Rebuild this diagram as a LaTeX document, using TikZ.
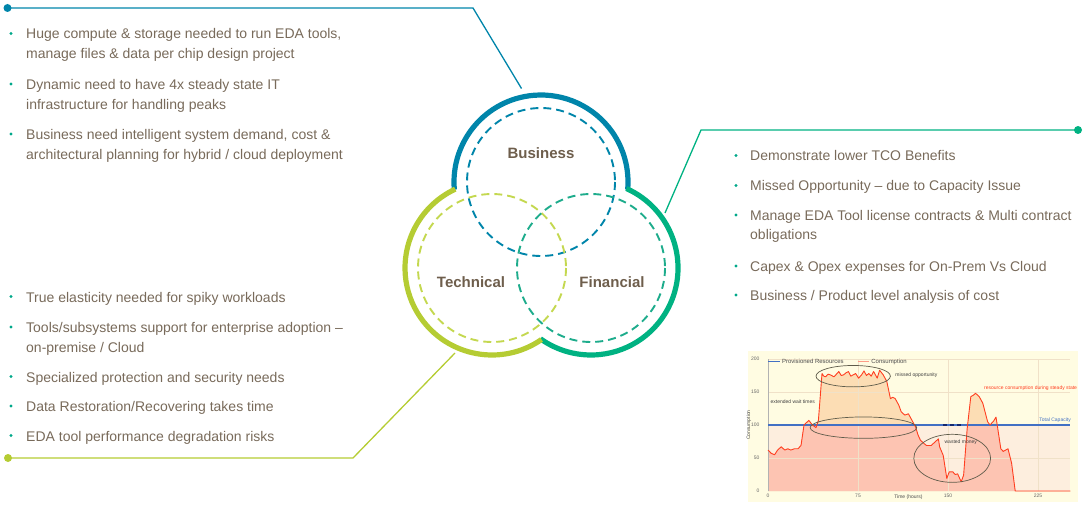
\documentclass[tikz,border=0pt]{standalone}
\usepackage{fontspec}
\setmainfont{Liberation Sans}
\usetikzlibrary{calc}
\definecolor{bizblue}{RGB}{0,133,170}
\definecolor{fingreen}{RGB}{0,178,130}
\definecolor{finDash}{RGB}{30,172,140}
\definecolor{techlime}{RGB}{181,204,51}
\definecolor{techDash}{RGB}{196,216,80}
\definecolor{txtc}{RGB}{120,106,90}
\definecolor{lblc}{RGB}{110,94,76}
\definecolor{bulc}{RGB}{0,168,138}
\definecolor{chartbg}{RGB}{255,252,226}
\definecolor{creamc}{RGB}{253,238,222}
\definecolor{peachc}{RGB}{252,221,180}
\definecolor{salmonc}{RGB}{253,196,178}
\definecolor{redc}{RGB}{255,62,32}
\definecolor{capblue}{RGB}{66,112,196}
\definecolor{navyc}{RGB}{20,40,110}
\definecolor{ellc}{RGB}{95,92,75}
\definecolor{gridc}{RGB}{240,225,200}
\tikzset{
  txt/.style={font=\fontsize{14}{17}\selectfont, text=txtc, inner sep=0, anchor=base west},
  bul/.style={circle, fill=bulc, inner sep=0, minimum size=3.2},
  lbl/.style={font=\fontsize{15}{18}\selectfont\bfseries, text=lblc, inner sep=0, anchor=base},
  ring/.style={line width=5.2, line cap=butt},
  dashring/.style={line width=1.9, dash pattern=on 8 off 5},
  conn/.style={line width=1.3},
  enddot/.style={circle, inner sep=0, minimum size=8},
  tiny/.style={font=\fontsize{5}{6}\selectfont, inner sep=0},
}
\begin{document}
\begin{tikzpicture}[x=1pt, y=-1pt]
\useasboundingbox (0,0) rectangle (1089,505);
% ---------------- Venn ----------------
\coordinate (B) at (541,182);
\coordinate (T) at (492,268);
\coordinate (F) at (591,268);
\draw[dashring, bizblue] (B) circle[radius=74];
\draw[dashring, techDash] (T) circle[radius=74];
\draw[dashring, finDash] (F) circle[radius=74];
\draw[ring, bizblue] (B) ++(175:87) arc[start angle=175, end angle=365, radius=87];
\draw[ring, fingreen] (F) ++(-66:87) arc[start angle=-66, end angle=125.5, radius=87];
\draw[ring, techlime] (T) ++(55.3:87) arc[start angle=55.3, end angle=245, radius=87];
\node[lbl] (biz) at (541,159) {Business};
\node[lbl] (tech) at (471,287.5) {Technical};
\node[lbl] (fin) at (612,287.5) {Financial};
% ---------------- connectors ----------------
\node[enddot, fill=bizblue] (dotB) at (7.5,8) {};
\coordinate (bendB) at (473,8);
\coordinate (endB) at (521.5,88.5);
\draw[conn, bizblue] (dotB.center) -- (bendB) -- (endB);
\node[enddot, fill=fingreen] (dotF) at (1078,130) {};
\coordinate (bendF) at (701,130);
\coordinate (endF) at (665,213);
\draw[conn, fingreen] (dotF.center) -- (bendF) -- (endF);
\node[enddot, fill=techlime] (dotT) at (8,458) {};
\coordinate (bendT) at (353,458);
\coordinate (endT) at (455,353);
\draw[conn, techlime] (dotT.center) -- (bendT) -- (endT);
% ---------------- business text ----------------
\node[bul] (bb1) at (11,33.5) {};
\node[txt] (tb1a) at (26,39) {Huge compute \& storage needed to run EDA tools,};
\node[txt] (tb1b) at (26,59) {manage files \& data per chip design project};
\node[bul] (bb2) at (11,84) {};
\node[txt] (tb2a) at (26,89.5) {Dynamic need to have 4x steady state IT};
\node[txt] (tb2b) at (26,109.5) {infrastructure for handling peaks};
\node[bul] (bb3) at (11,134) {};
\node[txt] (tb3a) at (26,139.5) {Business need intelligent system demand, cost \&};
\node[txt] (tb3b) at (26,159.5) {architectural planning for hybrid / cloud deployment};
% ---------------- technical text ----------------
\node[bul] (bt1) at (11,296.5) {};
\node[txt] (tt1) at (26,302) {True elasticity needed for spiky workloads};
\node[bul] (bt2) at (11,327) {};
\node[txt] (tt2a) at (26,332.5) {Tools/subsystems support for enterprise adoption –};
\node[txt] (tt2b) at (26,352.5) {on-premise / Cloud};
\node[bul] (bt3) at (11,376.5) {};
\node[txt] (tt3) at (26,382) {Specialized protection and security needs};
\node[bul] (bt4) at (11,406) {};
\node[txt] (tt4) at (26,411.5) {Data Restoration/Recovering takes time};
\node[bul] (bt5) at (11,435.5) {};
\node[txt] (tt5) at (26,441) {EDA tool performance degradation risks};
% ---------------- financial text ----------------
\node[bul] (bf1) at (736,155.5) {};
\node[txt] (tf1) at (750,161) {Demonstrate lower TCO Benefits};
\node[bul] (bf2) at (736,185.5) {};
\node[txt] (tf2) at (750,191) {Missed Opportunity – due to Capacity Issue};
\node[bul] (bf3) at (736,215) {};
\node[txt] (tf3a) at (750,220.5) {Manage EDA Tool license contracts \& Multi contract};
\node[txt] (tf3b) at (750,240) {obligations};
\node[bul] (bf4) at (736,266) {};
\node[txt] (tf4) at (750,271.5) {Capex \& Opex expenses for On-Prem Vs Cloud};
\node[bul] (bf5) at (736,295) {};
\node[txt] (tf5) at (750,300.5) {Business / Product level analysis of cost};
% ---------------- chart ----------------
\fill[chartbg] (748,351) rectangle (1078,502);
\def\curvepath{-- (0,62) -- (2.7,57) -- (5.5,55) -- (8,62) -- (11,67) -- (14,62) -- (16.5,64) -- (19,62) -- (22,64) -- (25,64) -- (27.5,69) -- (30,100) -- (34,107) -- (37,100) -- (40,96) -- (42,107) -- (45,178) -- (46.5,174) -- (48,173) -- (50,177) -- (52,176) -- (55,173) -- (57,177) -- (59,181) -- (61,175) -- (63,176) -- (65,179) -- (67,181) -- (69,174) -- (71,176) -- (73,178) -- (75.5,171) -- (78,176) -- (80,182) -- (82,175) -- (84,178) -- (86,174) -- (88,181) -- (91,171) -- (93,183) -- (96,176) -- (99,166) -- (102,140) -- (104,142) -- (106,140) -- (109,130) -- (111,120) -- (114,115) -- (117,117) -- (120,107) -- (123,97) -- (125,85) -- (127,77) -- (130,72) -- (132,69) -- (136,69) -- (139,74) -- (142,79) -- (143,67) -- (146,54) -- (149,19) -- (151,29) -- (154,29) -- (156,25) -- (158,26) -- (161,14) -- (163,24) -- (166,95) -- (169,143) -- (171,145) -- (173,148) -- (176,143) -- (179,133) -- (183,105) -- (185,100) -- (188,106) -- (190,112) -- (191,100) -- (194,64) -- (196,60) -- (198,62) -- (200,64) -- (203,42) -- (206,0)}
\begin{scope}[shift={(768,491)}, x=1.2pt, y=0.66pt]
  \fill[creamc] (0,0) rectangle (252,100);
  \fill[peachc] (0,0) \curvepath -- (252,0) -- cycle;
  \begin{scope}
    \clip (0,0) rectangle (252,100);
    \fill[salmonc] (0,0) \curvepath -- (252,0) -- cycle;
  \end{scope}
  \foreach \gy in {50,150,200} \draw[gridc, line width=0.4] (0,\gy) -- (252,\gy);
  \foreach \gx in {75,150,225} \draw[gridc, line width=0.4] (\gx,0) -- (\gx,200);
  \draw[black!30, line width=0.4] (0,0) -- (0,200);
  \draw[capblue, line width=1.1] (0,100) -- (252,100);
  \draw[navyc, line width=1.1, dash pattern=on 4 off 3] (146,100) -- (163,100);
  \draw[redc, line width=0.9, line join=round] (0,62) \curvepath -- (252,0);
  % ellipses
  \draw[ellc, line width=0.7] (71,174) ellipse[x radius=31, y radius=16.2];
  \draw[ellc, line width=0.7] (79.5,96) ellipse[x radius=44.4, y radius=16.2];
  \draw[ellc, line width=0.7] (153.5,49.5) ellipse[x radius=32, y radius=36.4];
  % axis labels
  \foreach \v in {0,50,100,150,200} \node[tiny, text=black!60, anchor=east] (yl\v) at (-7,\v) {\v};
  \foreach \h in {0,75,150,225} \node[tiny, text=black!60, anchor=north] (xl\h) at (\h,-4) {\h};
  \node[tiny, text=black!70, anchor=north] (xlab) at (117,-5) {Time (hours)};
  \node[tiny, text=black!70, rotate=90] (ylab) at (-16,100) {Consumption};
  % legend
  \draw[capblue, line width=1] (0,196) -- (10,196);
  \node[tiny, font=\fontsize{6}{7}\selectfont, text=black!70, anchor=west] (leg1) at (11.5,196) {Provisioned Resources};
  \draw[salmonc!70!redc, line width=1.6] (75,196) -- (84,196);
  \node[tiny, font=\fontsize{6}{7}\selectfont, text=black!70, anchor=west] (leg2) at (86,196) {Consumption};
  % annotations
  \node[tiny, text=black!75, anchor=west] (amiss) at (106,176) {missed opportunity};
  \node[tiny, text=black!75, anchor=west] (await) at (2,135) {extended wait times};
  \node[tiny, text=redc, anchor=west] (asteady) at (180,155) {resource consumption during steady state};
  \node[tiny, text=capblue, anchor=west] (acap) at (226,107) {Total Capacity};
  \node[tiny, text=black!75, anchor=west] (awaste) at (147,74) {wasted money};
\end{scope}
\end{tikzpicture}
\end{document}
